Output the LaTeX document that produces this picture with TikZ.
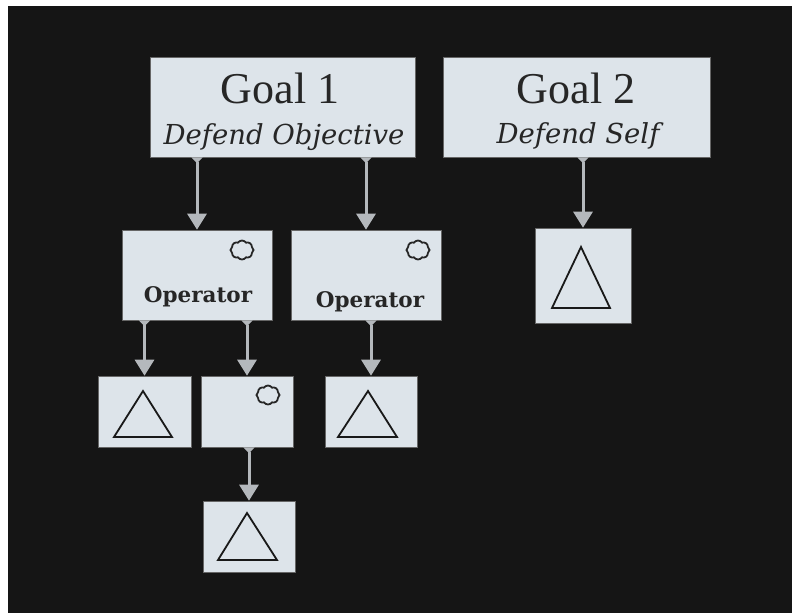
\documentclass[tikz,border=0pt]{standalone}
\usepackage{fontspec}
\setmainfont{Liberation Serif}
\newfontfamily\dvs{DejaVu Serif}
\usetikzlibrary{arrows.meta,shapes.symbols}
\definecolor{bg}{RGB}{21,21,21}
\definecolor{boxfill}{RGB}{221,228,234}
\definecolor{arrowgray}{RGB}{180,184,188}
\tikzset{
  box/.style={rectangle, fill=boxfill, draw=black!60, line width=0.6pt, inner sep=0pt},
  goalbox/.style={box, minimum width=265pt, minimum height=100pt},
  opbox/.style={box, minimum width=150pt, minimum height=90pt},
  smallbox/.style={box, minimum width=92pt, minimum height=71pt},
  link/.style={draw=arrowgray, line width=3pt,
    {Triangle[width=11pt,length=6pt,reversed,fill=arrowgray]}-{Triangle[width=19pt,length=16pt,fill=arrowgray]}},
  puff/.style={cloud, cloud puffs=8, cloud puff arc=110, draw=black!85, line width=1.8pt,
    minimum width=23pt, minimum height=19pt, inner sep=0pt, aspect=1.2},
  tri/.style={draw=black!90, line width=1.8pt, line join=miter},
  goaltext/.style={anchor=base, inner sep=0pt, font=\fontsize{44}{48}\selectfont, text=black!85},
  subtext/.style={anchor=base, inner sep=0pt, font=\dvs\itshape\fontsize{27.5}{30}\selectfont, text=black!85},
  optext/.style={anchor=base, inner sep=0pt, font=\dvs\bfseries\fontsize{21.5}{24}\selectfont, text=black!85}
}
\begin{document}
\begin{tikzpicture}[x=1pt,y=-1pt]
\useasboundingbox (0,0) rectangle (792,613);
\fill[white] (0,0) rectangle (792,613);
\fill[bg] (8,6) rectangle (792,613);

% goal boxes
\node[goalbox] (g1) at (283,107) {};
\node[goalbox, minimum width=267pt] (g2) at (576.5,107) {};
\node[goaltext] (g1t) at (280,103) {Goal 1};
\node[subtext] (g1s) at (284,144) {Defend Objective};
\node[goaltext] (g2t) at (576,103) {Goal 2};
\node[subtext] (g2s) at (578,143) {Defend Self};

% operator boxes
\node[opbox] (op1) at (197,275) {};
\node[opbox] (op2) at (366,275) {};
\node[optext] (op1t) at (198,302) {Operator};
\node[optext] (op2t) at (370,307) {Operator};
\node[puff] (c1) at (242,250) {};
\node[puff] (c2) at (418,250) {};

% goal 2 child
\node[box, minimum width=96pt, minimum height=95pt] (gc) at (583,275.5) {};
\draw[tri] (552,308) -- (610,308) -- (581,247) -- cycle;

% row 3
\node[smallbox, minimum width=93pt] (t1) at (144.5,411.5) {};
\draw[tri] (114,437) -- (172,437) -- (143,391) -- cycle;
\node[smallbox] (m1) at (247,411.5) {};
\node[puff] (c3) at (268,395) {};
\node[smallbox] (t3) at (371,411.5) {};
\draw[tri] (338,437) -- (397,437) -- (368,391) -- cycle;

% bottom
\node[smallbox] (b1) at (249,536.5) {};
\draw[tri] (218,560) -- (277,560) -- (247,513) -- cycle;

% connectors
\draw[link] (g1.south -| op1.north) -- (op1.north);
\draw[link] (g1.south -| op2.north) -- (op2.north);
\draw[link] (g2.south -| gc.north) -- (gc.north);
\draw[link] (op1.south -| t1.north) -- (t1.north);
\draw[link] (op1.south -| m1.north) -- (m1.north);
\draw[link] (op2.south -| t3.north) -- (t3.north);
\draw[link] (m1.south -| b1.north) -- (b1.north);
\end{tikzpicture}
\end{document}
